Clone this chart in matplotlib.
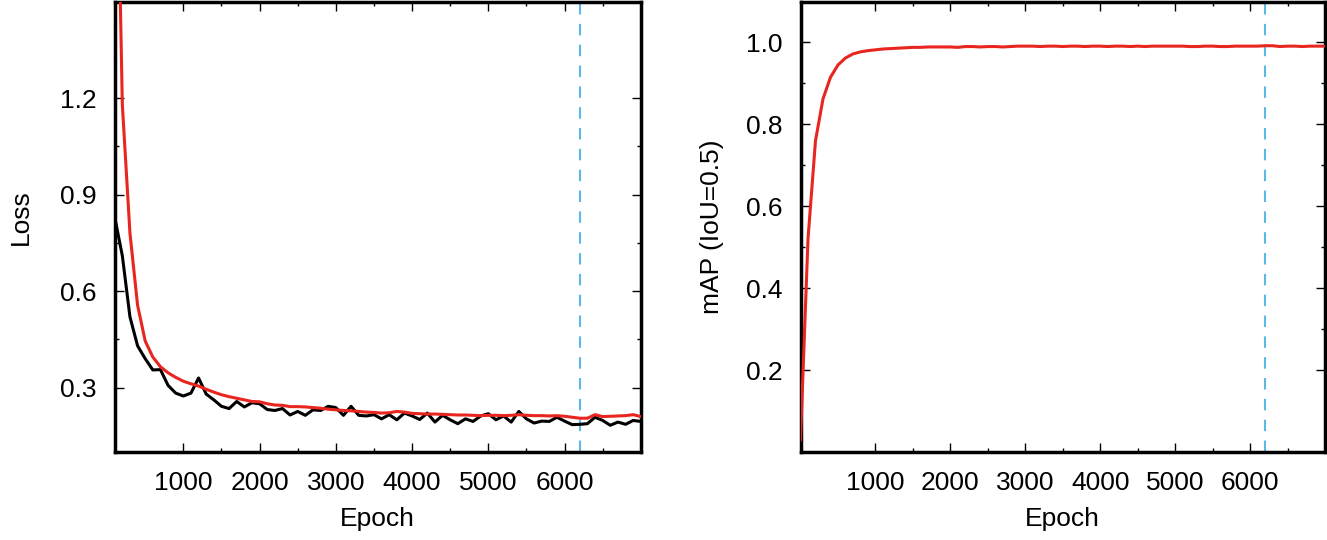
import matplotlib
matplotlib.use("Agg")
import matplotlib.pyplot as plt
import numpy as np

plt.rcParams['font.family'] = ['Liberation Sans', 'DejaVu Sans']

# ---------------- data ----------------
loss_epochs = list(range(100, 7001, 100))
train_loss = [0.83, 0.71, 0.52, 0.43, 0.39, 0.355, 0.356, 0.307, 0.283, 0.274,
              0.283, 0.33, 0.28, 0.262, 0.242, 0.235, 0.257, 0.24, 0.253, 0.25,
              0.232, 0.229, 0.235, 0.215, 0.226, 0.214, 0.231, 0.229, 0.242, 0.238,
              0.214, 0.242, 0.214, 0.212, 0.216, 0.203, 0.216, 0.2, 0.221, 0.212,
              0.201, 0.221, 0.193, 0.214, 0.2, 0.188, 0.203, 0.195, 0.212, 0.219,
              0.2, 0.212, 0.193, 0.226, 0.203, 0.19, 0.196, 0.195, 0.208, 0.196,
              0.185, 0.186, 0.188, 0.208, 0.198, 0.183, 0.193, 0.186, 0.198, 0.195]
val_loss = [2.4, 1.18, 0.78, 0.556, 0.445, 0.395, 0.365, 0.346, 0.332, 0.32,
            0.312, 0.305, 0.295, 0.286, 0.278, 0.272, 0.267, 0.262, 0.257, 0.256,
            0.25, 0.246, 0.245, 0.241, 0.241, 0.24, 0.238, 0.236, 0.233, 0.231,
            0.229, 0.228, 0.226, 0.224, 0.223, 0.221, 0.222, 0.226, 0.224, 0.22,
            0.219, 0.218, 0.218, 0.217, 0.216, 0.215, 0.215, 0.214, 0.213, 0.214,
            0.214, 0.213, 0.214, 0.216, 0.214, 0.213, 0.213, 0.212, 0.213, 0.211,
            0.208, 0.205, 0.205, 0.216, 0.21, 0.211, 0.212, 0.213, 0.216, 0.21]

map_epochs = list(range(0, 7001, 100))
map_values = [0.03, 0.52, 0.76, 0.862, 0.915, 0.945, 0.962, 0.972, 0.977, 0.980,
              0.982, 0.984, 0.985, 0.986, 0.987, 0.988, 0.988, 0.989, 0.989, 0.989,
              0.989, 0.988, 0.990, 0.990, 0.989, 0.990, 0.990, 0.989, 0.990, 0.991,
              0.991, 0.991, 0.990, 0.991, 0.991, 0.990, 0.991, 0.991, 0.990, 0.991,
              0.991, 0.990, 0.991, 0.991, 0.990, 0.991, 0.990, 0.991, 0.991, 0.991,
              0.991, 0.991, 0.990, 0.990, 0.991, 0.991, 0.990, 0.990, 0.991, 0.991,
              0.991, 0.991, 0.992, 0.992, 0.990, 0.991, 0.991, 0.990, 0.991, 0.991,
              0.991]

best_epoch = 6200
x_major = [1000, 2000, 3000, 4000, 5000, 6000]
x_minor = [1500, 2500, 3500, 4500, 5500, 6500]
loss_major = [0.3, 0.6, 0.9, 1.2]
loss_minor = [0.45, 0.75, 1.05]
map_major = [0.2, 0.4, 0.6, 0.8, 1.0]
map_minor = [0.3, 0.5, 0.7, 0.9]

RED = '#e8251e'
BLUE = '#5cb8e6'
FS = 19

fig = plt.figure(figsize=(13.27, 5.40), dpi=100)
W, H = 1327, 540
ax1 = fig.add_axes([114.7 / W, 1 - 452 / H, 526.1 / W, 450.5 / H])
ax2 = fig.add_axes([800.5 / W, 1 - 452 / H, 524.5 / W, 450.5 / H])


def style(ax):
    for s in ax.spines.values():
        s.set_linewidth(2.5)
    ax.tick_params(which='both', direction='in', top=True, right=True,
                   labelsize=FS, width=1.0)
    ax.tick_params(which='major', length=6.5)
    ax.tick_params(which='minor', length=3.2)
    ax.tick_params(axis='y', which='major', pad=13)
    ax.tick_params(axis='x', which='major', pad=14)
    ax.set_xticks(x_major)
    ax.set_xticks(x_minor, minor=True)


# Left: loss
ax1.plot(loss_epochs, train_loss, color='black', lw=2.2, zorder=3)
ax1.plot(loss_epochs, val_loss, color=RED, lw=2.2, zorder=4)
ax1.axvline(best_epoch, color=BLUE, lw=1.5, dashes=(5.5, 4.5), zorder=2)
ax1.set_xlim(100, 7000)
ax1.set_ylim(0.1, 1.5)
style(ax1)
ax1.set_yticks(loss_major)
ax1.set_yticks(loss_minor, minor=True)
ax1.set_yticklabels([f'{v:.1f}' for v in loss_major])
ax1.set_xlabel('Epoch', fontsize=FS)
ax1.set_ylabel('Loss', fontsize=FS)
ax1.xaxis.set_label_coords(0.5, -0.123)
ax1.yaxis.set_label_coords((21 - 114.7) / 526.1, 0.5205)
ax1.yaxis.label.set_va('center')

# Right: mAP
ax2.plot(map_epochs, map_values, color=RED, lw=2.2, zorder=4)
ax2.axvline(best_epoch, color=BLUE, lw=1.5, dashes=(5.5, 4.5), zorder=2)
ax2.set_xlim(0, 7000)
ax2.set_ylim(0.0, 1.1)
style(ax2)
ax2.set_yticks(map_major)
ax2.set_yticks(map_minor, minor=True)
ax2.set_yticklabels([f'{v:.1f}' for v in map_major])
ax2.set_xlabel('Epoch', fontsize=FS)
ax2.set_ylabel('mAP (IoU=0.5)', fontsize=FS)
ax2.xaxis.set_label_coords(0.5, -0.123)
ax2.yaxis.set_label_coords((711.5 - 800.5) / 524.5, 0.5)
ax2.yaxis.label.set_va('center')

fig.savefig('out.png', dpi=100)
